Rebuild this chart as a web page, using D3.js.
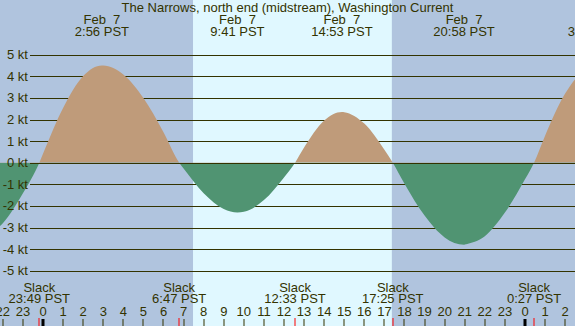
<!DOCTYPE html>
<html>
<head>
<meta charset="utf-8">
<script src="https://cdn.jsdelivr.net/npm/d3@7"></script>
<style>
  body { margin: 0; background: #b0c4de; }
  svg text { font-family: "Liberation Sans", Arial, sans-serif; font-size: 13px; fill: #333300; }
</style>
</head>
<body>
<div id="chart"></div>
<script>
// tide current events, hours from midnight Feb 7 (PST)
var slackHours = [-0.183, 6.783, 12.55, 17.417, 24.45];
var slackLabels = ["23:49 PST", "6:47 PST", "12:33 PST", "17:25 PST", "0:27 PST"];
var peakHours = [2.933, 9.683, 14.883, 20.967, 27.48];
var peakValues = [4.5, -2.3, 2.35, -3.8, 4.45];
var peakDates = ["Feb  7", "Feb  7", "Feb  7", "Feb  7", "Feb  8"];
var peakLabels = ["2:56 PST", "9:41 PST", "14:53 PST", "20:58 PST", "3:29 PST"];
// hourly speeds (kt), hours -3 .. 27
var hourTimes = d3.range(-3, 28);
var hourValues = [-3.44, -2.80, -1.42, 0.41, 2.53, 4.01, 4.50, 4.08, 2.99, 1.41,
                  -0.27, -1.41, -2.14, -2.27, -1.73, -0.68, 0.70, 1.95, 2.34, 1.81,
                  0.60, -0.97, -2.45, -3.46, -3.79, -3.40, -2.31, -0.77, 1.25, 3.20, 4.31];
var ktTicks = [5, 4, 3, 2, 1, 0, -1, -2, -3, -4, -5];
var sunrise = 7.47, sunset = 17.37;
var title = "The Narrows, north end (midstream), Washington Current";

var w = 575, h = 326;

var svg = d3.select("#chart").append("svg")
    .attr("width", w)
    .attr("height", h);

var x = d3.scaleLinear().domain([-2.141, 26.49]).range([0, w]);
var y = d3.scaleLinear().domain([5, -5]).range([54.7, 270.7]);

// background + daylight band
svg.append("rect").attr("width", w).attr("height", h).attr("fill", "#b0c4de");
svg.append("rect")
    .attr("x", x(sunrise)).attr("y", 0)
    .attr("width", x(sunset) - x(sunrise)).attr("height", h)
    .attr("fill", "#e0f8ff");

// grid lines
svg.append("g").selectAll("line").data(ktTicks).enter().append("line")
    .attr("x1", 30).attr("x2", w)
    .attr("y1", function (d) { return Math.round(y(d)) + 0.5; })
    .attr("y2", function (d) { return Math.round(y(d)) + 0.5; })
    .attr("stroke", "#333300").attr("stroke-width", 1);

// points: hourly readings + slacks (0) + maxima
var pts = [];
hourTimes.forEach(function (t, i) { pts.push({t: t, v: hourValues[i]}); });
slackHours.forEach(function (t) { pts.push({t: t, v: 0}); });
peakHours.forEach(function (t, i) { pts.push({t: t, v: peakValues[i]}); });
pts.sort(function (a, b) { return a.t - b.t; });

var area = d3.area()
    .x(function (d) { return x(d.t); })
    .y0(y(0))
    .y1(function (d) { return y(d.v); })
    .curve(d3.curveMonotoneX);

svg.append("clipPath").attr("id", "floodClip")
    .append("rect").attr("x", 0).attr("y", 0).attr("width", w).attr("height", y(0));
svg.append("clipPath").attr("id", "ebbClip")
    .append("rect").attr("x", 0).attr("y", y(0)).attr("width", w).attr("height", h - y(0));

svg.append("path").datum(pts)
    .attr("d", area)
    .attr("fill", "#bf9b7a")
    .attr("clip-path", "url(#floodClip)");
svg.append("path").datum(pts)
    .attr("d", area)
    .attr("fill", "#509472")
    .attr("clip-path", "url(#ebbClip)");

// zero line on top
svg.append("line")
    .attr("x1", 30).attr("x2", w)
    .attr("y1", Math.round(y(0)) + 0.5).attr("y2", Math.round(y(0)) + 0.5)
    .attr("stroke", "#333300");

// kt labels over the fills
svg.append("g").selectAll("text").data(ktTicks).enter().append("text")
    .attr("x", 28)
    .attr("y", function (d) { return y(d); })
    .attr("dy", "0.35em")
    .attr("text-anchor", "end")
    .text(function (d) { return d + " kt"; });

// title
svg.append("text").attr("x", w / 2).attr("y", 12)
    .attr("text-anchor", "middle").text(title);

// peak labels
var pk = svg.append("g").selectAll("g").data(peakHours).enter().append("g");
pk.append("text")
    .attr("x", function (d) { return x(d); }).attr("y", 24)
    .attr("text-anchor", "middle")
    .style("white-space", "pre")
    .text(function (d, i) { return peakDates[i]; });
pk.append("text")
    .attr("x", function (d) { return x(d); }).attr("y", 36)
    .attr("text-anchor", "middle")
    .text(function (d, i) { return peakLabels[i]; });

// slack labels
var sl = svg.append("g").selectAll("g").data(slackHours).enter().append("g");
sl.append("text")
    .attr("x", function (d) { return x(d); }).attr("y", 292)
    .attr("text-anchor", "middle").text("Slack");
sl.append("text")
    .attr("x", function (d) { return x(d); }).attr("y", 303)
    .attr("text-anchor", "middle")
    .text(function (d, i) { return slackLabels[i]; });

// hour axis
var hours = d3.range(-2, 27);
svg.append("g").selectAll("text").data(hours).enter().append("text")
    .attr("x", function (d) { return x(d); }).attr("y", 316)
    .attr("text-anchor", "middle")
    .text(function (d) { return (d + 24) % 24; });

svg.append("g").selectAll("rect").data(hours).enter().append("rect")
    .attr("x", function (d) { return d % 24 === 0 ? Math.round(x(d)) - 1.5 : Math.round(x(d)) - 0.5; })
    .attr("y", 319)
    .attr("width", function (d) { return d % 24 === 0 ? 3 : 1; })
    .attr("height", 7)
    .attr("fill", function (d) { return d % 24 === 0 ? "#000000" : "#333300"; });

svg.append("g").selectAll("rect").data(slackHours).enter().append("rect")
    .attr("x", function (d) { return Math.round(x(d)) - 0.5; })
    .attr("y", 318)
    .attr("width", 1)
    .attr("height", 8)
    .attr("fill", "#ff0000");
</script>
</body>
</html>
